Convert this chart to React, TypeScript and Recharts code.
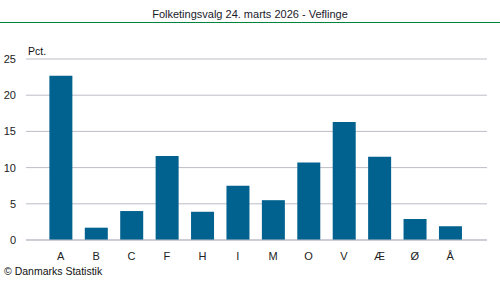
import { BarChart, Bar, XAxis, YAxis, CartesianGrid } from "recharts"

const parties = ["A", "B", "C", "F", "H", "I", "M", "O", "V", "Æ", "Ø", "Å"]
const shares = [22.7, 1.7, 4.0, 11.6, 3.9, 7.5, 5.5, 10.7, 16.3, 11.5, 2.9, 1.9]
const yTicks = [0, 5, 10, 15, 20, 25]

const chartData = parties.map((party, i) => ({ party, share: shares[i] }))

const font = "'Liberation Sans', Arial, sans-serif"

const App = () => {
   return (
      <div
         style={{
            position: "absolute",
            left: 0,
            top: 0,
            width: 500,
            height: 282,
            background: "#fff",
            fontFamily: font,
         }}
      >
         <div
            style={{
               position: "absolute",
               top: 8,
               width: 500,
               textAlign: "center",
               fontSize: 11,
               color: "#1a1a2a",
            }}
         >
            Folketingsvalg 24. marts 2026 - Veflinge
         </div>
         <div style={{ position: "absolute", top: 22, left: 0, width: 500, height: 1, background: "#00843d" }} />
         <div style={{ position: "absolute", top: 45, left: 28, fontSize: 10.5, color: "#111" }}>Pct.</div>
         <BarChart
            width={500}
            height={282}
            data={chartData}
            margin={{ top: 59, right: 13, bottom: 12, left: 0 }}
            barCategoryGap="18%"
         >
            <CartesianGrid vertical={false} stroke="#bdbdc6" />
            <XAxis
               dataKey="party"
               height={30}
               padding={{ left: 17, right: 19 }}
               axisLine={{ stroke: "#bdbdc6" }}
               tickLine={false}
               tick={{ fontSize: 11, fill: "#222", fontFamily: font }}
               tickMargin={6}
               interval={0}
            />
            <YAxis
               domain={[0, 25]}
               ticks={yTicks}
               width={26}
               axisLine={false}
               tickLine={false}
               tick={{ fontSize: 11, fill: "#222", fontFamily: font }}
               tickMargin={4}
            />
            <Bar dataKey="share" fill="#02628f" isAnimationActive={false} />
         </BarChart>
         <div style={{ position: "absolute", top: 265, left: 4, fontSize: 10.5, color: "#111" }}>
            © Danmarks Statistik
         </div>
      </div>
   )
}

export default App
